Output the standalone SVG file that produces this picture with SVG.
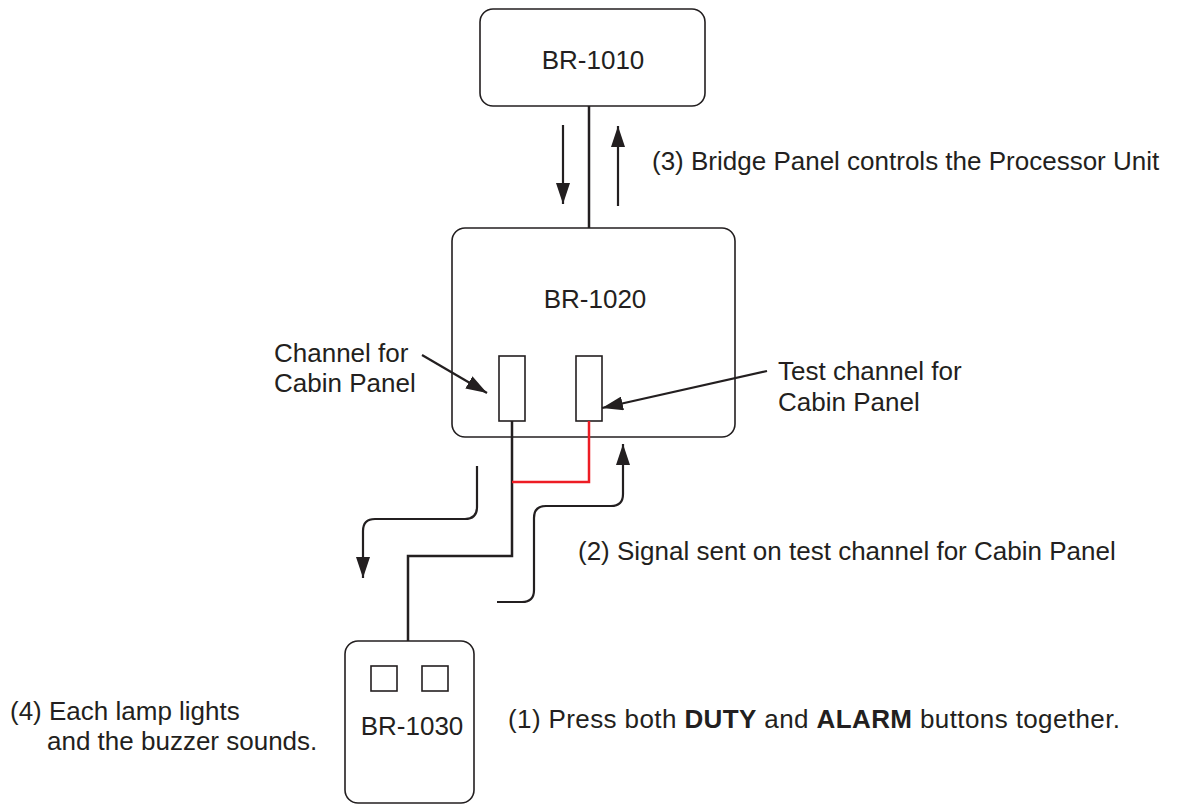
<svg xmlns="http://www.w3.org/2000/svg" width="1179" height="805" viewBox="0 0 1179 805">
<style>
.t{font-family:"Liberation Sans",Arial,sans-serif;font-size:26px;fill:#231f20}
.b{font-weight:bold}
.box{fill:#fff;stroke:#231f20;stroke-width:1.6}
.ln{fill:none;stroke:#231f20;stroke-width:2.5}
.red{fill:none;stroke:#ed1c24;stroke-width:2.5}
.ar{fill:none;stroke:#231f20;stroke-width:2.2}
</style>
<defs>
<marker id="ah" markerUnits="userSpaceOnUse" markerWidth="22" markerHeight="14" refX="21" refY="7" orient="auto">
<path d="M0,0 L21,7 L0,14 Z" fill="#231f20"/>
</marker>
</defs>
<g id="br1010">
<rect class="box" x="480" y="9" width="225" height="97" rx="13"/>
<text class="t" x="593" y="69" text-anchor="middle">BR-1010</text>
</g>
<g id="br1020">
<rect class="box" x="452" y="228" width="283" height="209" rx="13"/>
<text class="t" x="595" y="308" text-anchor="middle">BR-1020</text>
<rect class="box" x="499" y="356" width="26" height="65" rx="0"/>
<rect class="box" x="576" y="356" width="26" height="65" rx="0"/>
</g>
<g id="br1030">
<rect class="box" x="345" y="641" width="129" height="162" rx="13"/>
<rect class="box" x="371" y="666" width="26" height="25"/>
<rect class="box" x="422" y="666" width="26" height="25"/>
<text class="t" x="412" y="735" text-anchor="middle">BR-1030</text>
</g>
<g id="connectors">
<line class="ln" x1="589" y1="106" x2="589" y2="228"/>
<line class="ar" x1="563" y1="125" x2="563" y2="204" marker-end="url(#ah)"/>
<line class="ar" x1="618" y1="206" x2="618" y2="126" marker-end="url(#ah)"/>
<polyline class="ln" points="512,421 512,556 408,556 408,641" stroke-width="3"/>
<polyline class="red" points="589,421 589,482 512,482"/>
<path class="ar" d="M477,466 V507 Q477,519 465,519 H375 Q363,519 363,531 V578" marker-end="url(#ah)"/>
<path class="ar" d="M497,602 H522 Q534,602 534,590 V518 Q534,506 546,506 H611 Q623,506 623,494 V444" marker-end="url(#ah)"/>
<line class="ar" x1="422" y1="355" x2="487" y2="393" stroke-width="1.8" marker-end="url(#ah)"/>
<line class="ar" x1="767" y1="371" x2="602" y2="408" stroke-width="1.8" marker-end="url(#ah)"/>
</g>
<g id="labels">
<text class="t" x="652" y="170">(3) Bridge Panel controls the Processor Unit</text>
<text class="t" x="274" y="362">Channel for</text>
<text class="t" x="274" y="392">Cabin Panel</text>
<text class="t" x="778" y="380">Test channel for</text>
<text class="t" x="778" y="411">Cabin Panel</text>
<text class="t" x="578" y="560">(2) Signal sent on test channel for Cabin Panel</text>
<text class="t" x="508" y="728" textLength="612" lengthAdjust="spacing">(1) Press both <tspan class="b">DUTY</tspan> and <tspan class="b">ALARM</tspan> buttons together.</text>
<text class="t" x="10" y="720">(4) Each lamp lights</text>
<text class="t" x="47" y="750">and the buzzer sounds.</text>
</g>
</svg>
